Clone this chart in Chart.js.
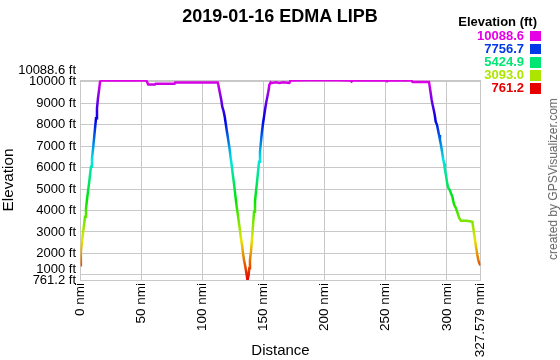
<!DOCTYPE html>
<html><head><meta charset="utf-8">
<script src="https://cdn.jsdelivr.net/npm/chart.js@4/dist/chart.umd.min.js"></script>
<style>
html,body{margin:0;padding:0;background:#fff;}
#wrap{position:relative;width:560px;height:360px;font-family:"Liberation Sans",Arial,sans-serif;color:#000;overflow:hidden;}
canvas{position:absolute;left:0;top:0;}
.t{position:absolute;white-space:nowrap;}
</style></head><body>
<div id="wrap">
<canvas id="c" width="560" height="360"></canvas>
<div class="t" id="title" style="left:0;width:560px;top:5px;text-align:center;font-weight:bold;font-size:18px;line-height:22px;">2019-01-16 EDMA LIPB</div>
<div class="t" id="legTitle" style="right:23px;top:15px;font-weight:bold;font-size:13px;line-height:14px;">Elevation (ft)</div>
<div id="legend"></div>
<div class="t" id="credit" style="left:553px;top:179px;transform:translate(-50%,-50%) rotate(-90deg);font-size:12px;line-height:14px;color:#666;">created by GPSVisualizer.com</div>
</div>
<script>
const distanceNmi = [0,0.3,1.2,2.0,2.9,3.7,4.5,5.3,6.1,7.0,7.8,8.6,9.4,10.2,11.1,11.9,12.7,13.5,14.3,15.2,16.0,16.8,
 54.0,55.5,61.0,61.5,77.0,77.5,112.4,
 112.9,113.7,114.5,115.3,116.1,117.3,118.1,118.9,119.7,120.6,121.4,122.2,123.0,123.8,124.6,125.5,126.3,127.1,127.9,128.7,129.6,130.4,131.2,132.3,133.1,133.9,135.0,136.1,136.8,
 137.7,138.2,138.8,139.6,140.5,141.3,142.1,142.9,143.7,144.6,145.4,146.2,147.0,147.8,148.6,149.5,150.3,151.3,152.2,153.3,154.1,154.6,155.8,156.6,
 160,163,166,171,172,200,221,222,223,250,251,252,271,272,285.4,
 286.0,286.8,287.6,288.4,289.3,290.1,290.9,292.0,292.8,293.6,294.4,295.2,296.1,296.9,297.7,298.5,299.3,300.1,301.0,302.4,303.4,304.5,305.3,306.1,307.5,308.9,310.2,311.6,316.3,320.9,321.7,322.5,323.3,324.1,325.0,325.8,326.6,327.579];
const elevationFt = [1450,2080,2547,2940,3326,3713,4105,4492,4880,5270,5658,6045,6437,6824,7370,7836,8303,8770,9236,9623,10010,10060,
 10060,9880,9880,9910,9910,9970,9970,
 9856,9620,9390,9156,8843,8610,8378,8070,7757,7445,7136,6824,6437,6124,5737,5346,4958,4572,4180,3872,3480,3172,2780,2393,2006,1694,1381,994,761.2,
 994,1306,1694,2080,2706,3326,3946,4413,4880,5346,5813,6278,6745,7211,7678,8070,8378,8770,9077,9390,9620,9856,9980,9950,
 9980,9950,9980,9950,10070,10088.6,10070,10020,10070,10070,10030,10070,10070,10000,10000,
 9777,9470,9156,8923,8690,8457,8144,7990,7757,7523,7290,7057,6745,6437,6203,5891,5658,5346,5084,4958,4805,4650,4445,4260,4105,3872,3640,3527,3527,3480,3172,2860,2547,2240,1927,1694,1540,1450];
const xTickValues = [0,50,100,150,200,250,300,327.579];
const yTickValues = [761.2,1000,2000,3000,4000,5000,6000,7000,8000,9000,10000,10088.6];
const legendValues = ['10088.6','7756.7','5424.9','3093.0','761.2'];
const legendColors = ['#e600e6','#0039e6','#00e673','#ace600','#e60000'];

const F = '"Liberation Sans", Arial, sans-serif';

// legend (HTML text)
const leg = document.getElementById('legend');
legendValues.forEach((v,i)=>{
  const cy = 35.7 + i*13.15;
  const t = document.createElement('div');
  t.className='t';
  t.textContent = v;
  t.style.cssText = `right:36px;top:${cy-7}px;font-weight:bold;font-size:13px;line-height:14px;color:${legendColors[i]};`;
  leg.appendChild(t);
  const s = document.createElement('div');
  s.style.cssText = `position:absolute;left:530px;top:${cy-5}px;width:10.5px;height:10.5px;background:${legendColors[i]};`;
  leg.appendChild(s);
});

function lineGradient(context){
  const chart = context.chart;
  const {ctx, chartArea, scales} = chart;
  if (!chartArea || !scales.y) return '#e600e6';
  const y0 = scales.y.getPixelForValue(761.2);
  const y1 = scales.y.getPixelForValue(10088.6);
  const g = ctx.createLinearGradient(0, y0, 0, y1);
  for (let i=0;i<=20;i++){
    const t=i/20;
    g.addColorStop(t, `hsl(${300*t},100%,45%)`);
  }
  return g;
}

new Chart(document.getElementById('c'), {
  type:'line',
  data:{datasets:[{
    data: distanceNmi.map((d,i)=>({x:d,y:elevationFt[i]})),
    borderColor: lineGradient,
    borderWidth: 2.5,
    pointRadius: 0,
    tension: 0,
    fill: false
  }]},
  options:{
    responsive:false,
    animation:false,
    layout:{padding:{top:80,right:79.5,left:0,bottom:0}},
    plugins:{legend:{display:false},tooltip:{enabled:false},title:{display:false}},
    scales:{
      x:{
        type:'linear', min:0, max:327.579,
        afterBuildTicks:(s)=>{ s.ticks = xTickValues.map(v=>({value:v})); },
        afterFit:(s)=>{ s.height = 80; },
        ticks:{autoSkip:false,minRotation:90,maxRotation:90,padding:3,color:'#000',
          font:{family:F,size:13.5},callback:(v)=>v+' nmi'},
        grid:{color:'#c8c8c8',lineWidth:1,drawTicks:false},
        border:{color:'#c8c8c8'},
        title:{display:true,text:'Distance',color:'#000',font:{family:F,size:15},padding:0}
      },
      y:{
        type:'linear', min:761.2, max:10088.6,
        afterBuildTicks:(s)=>{ s.ticks = yTickValues.map(v=>({value:v})); },
        afterFit:(s)=>{ s.width = 80.5; },
        ticks:{autoSkip:false,padding:4.5,color:'#000',
          font:(ctx)=>{
            const v = ctx.tick ? ctx.tick.value : 0;
            let lh = 15;
            if (v===10088.6) lh = 20;
            else if (v===1000) lh = 10;
            return {family:F,size:13,lineHeight:lh+'px'};
          },
          callback:(v)=>{
            const s = v+' ft';
            if (v===10088.6 || v===1000) return [s,''];
            return s;
          }},
        grid:{color:'#c8c8c8',lineWidth:1,drawTicks:false},
        border:{color:'#c8c8c8'},
        title:{display:true,text:'Elevation',color:'#000',font:{family:F,size:15.3},padding:0}
      }
    }
  }
});
</script>
</body></html>
